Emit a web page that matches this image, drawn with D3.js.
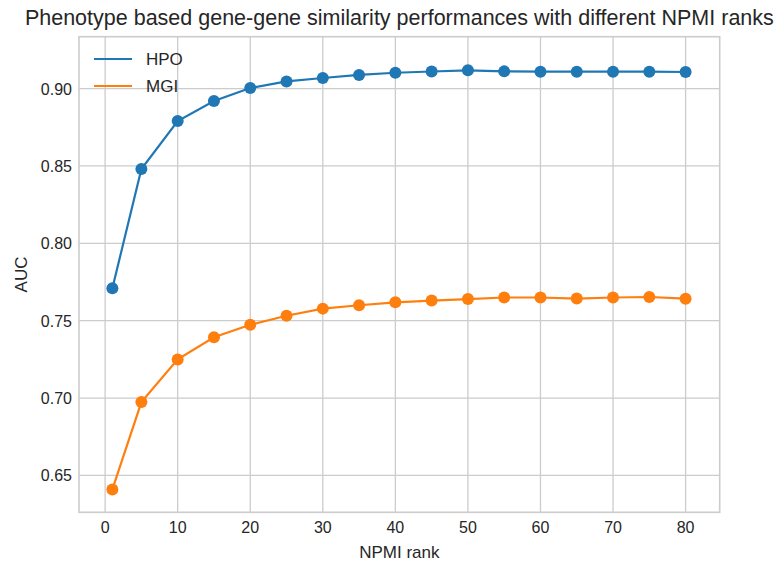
<!DOCTYPE html>
<html>
<head>
<meta charset="utf-8">
<script src="https://cdn.jsdelivr.net/npm/d3@7"></script>
<style>
  body { margin: 0; background: #fff; }
  text { font-family: "Liberation Sans", Arial, sans-serif; fill: #262626; }
</style>
</head>
<body>
<script>
var ranks = [1, 5, 10, 15, 20, 25, 30, 35, 40, 45, 50, 55, 60, 65, 70, 75, 80];
var hpo = [0.771, 0.848, 0.879, 0.892, 0.9003, 0.9046, 0.9068, 0.9088, 0.9102, 0.9110, 0.9118, 0.9111, 0.9109, 0.9109, 0.9109, 0.9109, 0.9107];
var mgi = [0.641, 0.6974, 0.725, 0.7393, 0.7474, 0.7532, 0.7578, 0.7600, 0.7619, 0.7630, 0.7640, 0.7650, 0.7650, 0.7643, 0.7650, 0.7653, 0.7642];
var xTicks = [0, 10, 20, 30, 40, 50, 60, 70, 80];
var yTicks = [0.65, 0.70, 0.75, 0.80, 0.85, 0.90];
var series = [
  {name: "HPO", values: hpo, color: "#1f77b4"},
  {name: "MGI", values: mgi, color: "#ff7f0e"}
];

var W = 776, H = 564;
var L = 79, R = 719.7, T = 36.7, B = 512.3;

var svg = d3.select("body").append("svg").attr("width", W).attr("height", H);

var x = d3.scaleLinear().domain([-3.6, 84.7]).range([L, R]);
var y = d3.scaleLinear().domain([0.6262, 0.9335]).range([B, T]);

// grid
svg.append("g").selectAll("line").data(xTicks).enter().append("line")
  .attr("x1", d => x(d)).attr("x2", d => x(d)).attr("y1", T).attr("y2", B)
  .attr("stroke", "#cccccc").attr("stroke-width", 1.3);
svg.append("g").selectAll("line").data(yTicks).enter().append("line")
  .attr("y1", d => y(d)).attr("y2", d => y(d)).attr("x1", L).attr("x2", R)
  .attr("stroke", "#cccccc").attr("stroke-width", 1.3);

// frame
svg.append("rect").attr("x", L).attr("y", T).attr("width", R - L).attr("height", B - T)
  .attr("fill", "none").attr("stroke", "#cccccc").attr("stroke-width", 1.6);

// tick labels
svg.append("g").selectAll("text").data(xTicks).enter().append("text")
  .attr("x", d => x(d)).attr("y", 533).attr("text-anchor", "middle")
  .attr("font-size", 16).text(d => d);
svg.append("g").selectAll("text").data(yTicks).enter().append("text")
  .attr("x", L - 7).attr("y", d => y(d) + 6).attr("text-anchor", "end")
  .attr("font-size", 16).text(d => d.toFixed(2));

// axis labels and title
svg.append("text").attr("x", (L + R) / 2).attr("y", 558).attr("text-anchor", "middle")
  .attr("font-size", 17).text("NPMI rank");
svg.append("text").attr("transform", "translate(27," + ((T + B) / 2) + ") rotate(-90)")
  .attr("text-anchor", "middle").attr("font-size", 17).text("AUC");
svg.append("text").attr("x", (L + R) / 2).attr("y", 25).attr("text-anchor", "middle")
  .attr("font-size", 21.5).text("Phenotype based gene-gene similarity performances with different NPMI ranks");

// lines + markers
var line = d3.line().x((d, i) => x(ranks[i])).y(d => y(d));
series.forEach(function(s) {
  svg.append("path").datum(s.values).attr("d", line)
    .attr("fill", "none").attr("stroke", s.color).attr("stroke-width", 2.2);
  svg.append("g").selectAll("circle").data(s.values).enter().append("circle")
    .attr("cx", (d, i) => x(ranks[i])).attr("cy", d => y(d)).attr("r", 6)
    .attr("fill", s.color);
});

// legend
var lg = svg.append("g").selectAll("g").data(series).enter().append("g")
  .attr("transform", (d, i) => "translate(94," + (59 + i * 27) + ")");
lg.append("line").attr("x1", 0).attr("x2", 38).attr("stroke", d => d.color).attr("stroke-width", 2.2);
lg.append("text").attr("x", 52).attr("y", 6).attr("font-size", 17).text(d => d.name);
</script>
</body>
</html>
